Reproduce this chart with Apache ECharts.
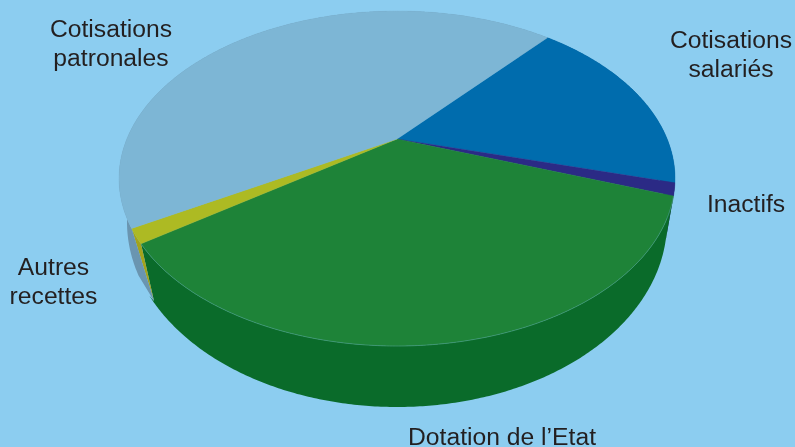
<!DOCTYPE html>
<html lang="fr">
<head>
<meta charset="UTF-8">
<title>Recettes</title>
<script src="https://cdn.jsdelivr.net/npm/echarts@6/dist/echarts.min.js"></script>
<style>
html, body { margin: 0; padding: 0; background: #8ccdf0; }
#main { width: 795px; height: 447px; }
</style>
</head>
<body>
<div id="main"></div>
<script>
// share of each slice in %, clockwise from the patronales/salaries edge
var categories = ['Cotisations\nsalariés', 'Inactifs', 'Dotation de l’Etat', 'Autres\nrecettes', 'Cotisations\npatronales'];
var shares = [17.8, 1.2, 34.9, 1.4, 44.7];
var topColors = ['#006cad', '#2b2a85', '#1e8338', '#adba23', '#7db6d5'];
var wallColors = ['#005a90', '#22226b', '#0a6b2a', '#a3a31c', '#6a95b0'];

var chart = echarts.init(document.getElementById('main'));

// top disc: ellipse seen in perspective, centre of the disc projects to apexY
var startDeg = 41;
var cx = 397, rx = 278, topY = 11, botY = 346, apexY = 139;
var c = (2 * apexY - topY - botY) / (botY - topY);
var a = botY * (1 + c) - apexY;
var k = rx * Math.sqrt(1 - c * c);
var ellCy = (topY + botY) / 2, ellRy = (botY - topY) / 2;
// bottom rim ellipse
var rimRx = 270, rimCy = 222, rimRy = 185;
var pinchX = 154, pinchY = 301;

function topPoint(deg) {
    var r = deg * Math.PI / 180;
    var x = Math.sin(r), t = -Math.cos(r);
    var w = 1 + c * t;
    return [cx + k * x / w, (a * t + apexY) / w];
}
function rimPoint(deg) {
    var p = topPoint(deg);
    var u = (p[0] - cx) / rx, v = (p[1] - ellCy) / ellRy;
    return [cx + rimRx * u, rimCy + rimRy * v];
}
function sliceRange(i) {
    var sum = 0, j;
    for (j = 0; j < i; j++) sum += shares[j];
    var total = shares.reduce(function (s, v) { return s + v; }, 0);
    return [startDeg + sum / total * 360, startDeg + (sum + shares[i]) / total * 360];
}
function arc(from, to, fn) {
    var pts = [], n = Math.max(4, Math.ceil(Math.abs(to - from) * 2)), i;
    for (i = 0; i <= n; i++) pts.push(fn(from + (to - from) * i / n));
    return pts;
}

function renderWall(params) {
    var i = params.dataIndex, rg = sliceRange(i);
    var upper = arc(rg[0], rg[1], topPoint);
    var lower = arc(rg[0], rg[1], rimPoint);
    // the thin Autres wall closes to a single point on the rim
    if (i === 3) lower = [[pinchX, pinchY]];
    if (i === 2) lower[lower.length - 1] = [pinchX, pinchY];
    if (i === 4) lower[0] = [pinchX, pinchY];
    return {
        type: 'polygon',
        shape: { points: upper.concat(lower.reverse()) },
        style: { fill: wallColors[i] }
    };
}
function renderTop(params) {
    var i = params.dataIndex, rg = sliceRange(i);
    var edge = arc(rg[0], rg[1], topPoint);
    var children = [{
        type: 'polygon',
        shape: { points: [[cx, apexY]].concat(edge) },
        style: { fill: topColors[i], stroke: topColors[i], lineWidth: 0.4 }
    }];
    // light seam where the green top meets its wall
    if (i === 2) {
        children.push({
            type: 'polyline',
            shape: { points: edge },
            style: { fill: null, stroke: '#4da08c', lineWidth: 0.6 }
        });
    }
    return { type: 'group', children: children };
}

var labelSpots = [
    { x: 731, y: 56 },
    { x: 746, y: 205 },
    { x: 502, y: 438 },
    { x: 53.5, y: 283 },
    { x: 111, y: 45 }
];

chart.setOption({
    backgroundColor: '#8ccdf0',
    animation: false,
    graphic: categories.map(function (name, i) {
        return {
            type: 'text',
            x: labelSpots[i].x,
            y: labelSpots[i].y,
            z: 10,
            style: {
                text: name,
                fill: '#231f20',
                font: '24.7px "Liberation Sans", Arial, sans-serif',
                lineHeight: 29,
                align: 'center',
                verticalAlign: 'middle'
            }
        };
    }),
    series: [
        { type: 'custom', coordinateSystem: 'none', data: shares, renderItem: renderWall, z: 1, silent: true },
        { type: 'custom', coordinateSystem: 'none', data: shares, renderItem: renderTop, z: 2, silent: true }
    ]
});
</script>
</body>
</html>
